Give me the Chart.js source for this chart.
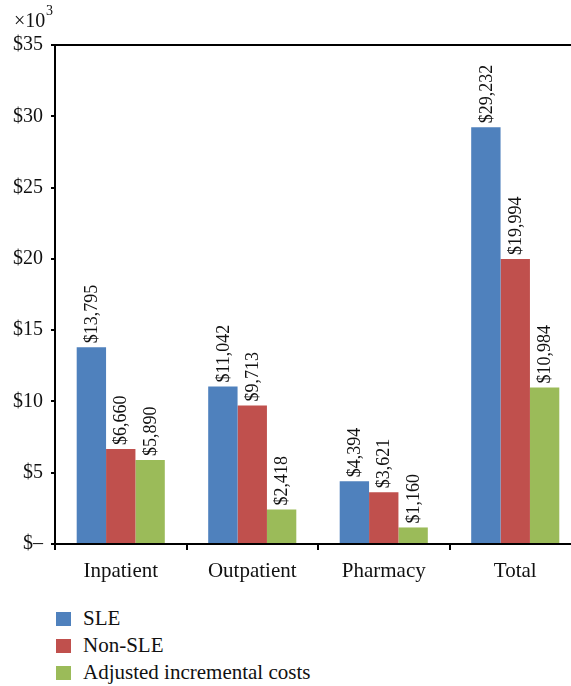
<!DOCTYPE html>
<html>
<head>
<meta charset="utf-8">
<script src="https://cdn.jsdelivr.net/npm/chart.js@4"></script>
<style>
  html, body { margin: 0; padding: 0; background: #fff; overflow: hidden; }
  #wrap { position: relative; width: 600px; height: 590px; }
  #legend { position: absolute; left: 56px; top: 605px; font-family: "Liberation Serif", serif; font-size: 21px; color: #111; }
  .item { display: flex; align-items: center; height: 27px; }
  .box { width: 15px; height: 14px; margin-right: 12px; }
</style>
</head>
<body>
<div id="wrap"><canvas id="costChart" width="600" height="590"></canvas></div>
<div id="legend"></div>
<script>
// Data (values in $)
const categories = ['Inpatient', 'Outpatient', 'Pharmacy', 'Total'];
const sleCosts = [13795, 11042, 4394, 29232];
const nonSleCosts = [6660, 9713, 3621, 19994];
const adjustedCosts = [5890, 2418, 1160, 10984];
const seriesNames = ['SLE', 'Non-SLE', 'Adjusted incremental costs'];
const seriesColors = ['#4F81BD', '#C0504D', '#9BBB59'];

const serif = '"Liberation Serif", serif';

// Draws the rotated dollar labels above each bar, the top frame line and the x10^3 note
const labelPlugin = {
  id: 'barLabels',
  afterDatasetsDraw(chart) {
    const ctx = chart.ctx;
    ctx.save();
    ctx.font = '18px ' + serif;
    ctx.fillStyle = '#111';
    chart.data.datasets.forEach((ds, i) => {
      chart.getDatasetMeta(i).data.forEach((bar, j) => {
        const text = '$' + ds.data[j].toLocaleString('en-US');
        ctx.save();
        ctx.translate(bar.x, bar.y - 4);
        ctx.rotate(-Math.PI / 2);
        ctx.textAlign = 'left';
        ctx.textBaseline = 'middle';
        ctx.fillText(text, 0, 1);
        ctx.restore();
      });
    });

    // top border of the plot
    const area = chart.chartArea;
    ctx.strokeStyle = '#000';
    ctx.lineWidth = 2;
    ctx.beginPath();
    ctx.moveTo(area.left, area.top);
    ctx.lineTo(area.right, area.top);
    ctx.stroke();

    // multiplier note
    ctx.font = '20px ' + serif;
    ctx.textAlign = 'left';
    ctx.textBaseline = 'alphabetic';
    ctx.fillText('\u00d710', 14, 27);
    ctx.font = '14px ' + serif;
    ctx.fillText('3', 46, 15);
    ctx.restore();
  }
};

const ctx = document.getElementById('costChart').getContext('2d');
const costChart = new Chart(ctx, {
  type: 'bar',
  data: {
    labels: categories,
    datasets: [sleCosts, nonSleCosts, adjustedCosts].map((vals, i) => ({
      label: seriesNames[i],
      data: vals,
      backgroundColor: seriesColors[i],
      borderWidth: 0,
      categoryPercentage: 0.67,
      barPercentage: 1.0
    }))
  },
  options: {
    responsive: false,
    animation: false,
    layout: { padding: { top: 45, right: 19, left: 0, bottom: 0 } },
    plugins: {
      legend: { display: false },
      tooltip: { enabled: false }
    },
    scales: {
      x: {
        grid: { display: true, drawOnChartArea: false, drawTicks: true, tickLength: 6, color: '#000', lineWidth: 2, offset: true },
        border: { display: true, color: '#000', width: 2 },
        ticks: { color: '#111', font: { family: serif, size: 21 }, padding: 9 },
        afterFit(scale) { scale.height = 46; }
      },
      y: {
        min: 0,
        max: 35000,
        grid: { display: true, drawOnChartArea: false, drawTicks: true, tickLength: 4, color: '#000', lineWidth: 2 },
        border: { display: true, color: '#000', width: 2 },
        ticks: {
          stepSize: 5000,
          color: '#111',
          font: { family: serif, size: 20 },
          padding: 8,
          callback: v => v === 0 ? '$\u2013' : '$' + (v / 1000)
        },
        afterFit(scale) { scale.width = 55; }
      }
    }
  },
  plugins: [labelPlugin]
});

// HTML legend built from the chart datasets
const legend = document.getElementById('legend');
costChart.data.datasets.forEach(ds => {
  const row = document.createElement('div');
  row.className = 'item';
  row.innerHTML = `<span class="box" style="background:${ds.backgroundColor}"></span><span>${ds.label}</span>`;
  legend.appendChild(row);
});
</script>
</body>
</html>
